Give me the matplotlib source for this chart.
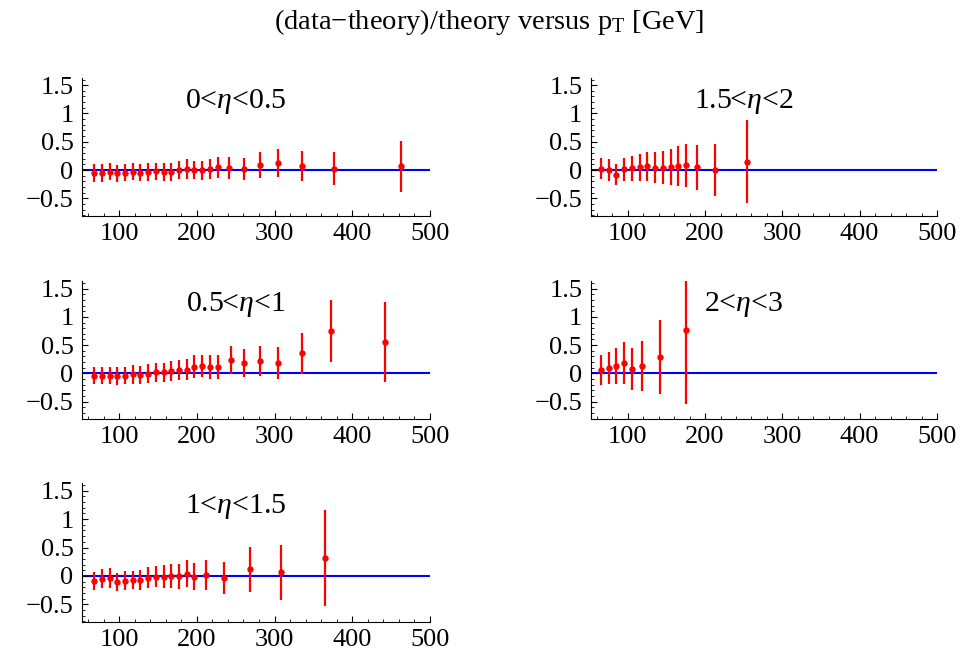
import matplotlib.pyplot as plt
from matplotlib.ticker import MultipleLocator

plt.rcParams['font.family'] = ['Liberation Serif', 'DejaVu Serif']
plt.rcParams['mathtext.fontset'] = 'custom'
plt.rcParams['mathtext.rm'] = 'Liberation Serif'
plt.rcParams['mathtext.it'] = 'Liberation Serif:italic'

# (data-theory)/theory, with error bars, per eta bin
pt_a = [67.4, 77.7, 88, 97.9, 107.8, 117.6, 127.5, 137.4, 147.7, 157.5, 167.4, 177.3,
        187.1, 197, 207.3, 217.2, 227, 241.2, 260.9, 281.1, 304.7, 335.1, 376.3, 462.1]
val_a = [-0.047, -0.047, -0.030, -0.059, -0.047, -0.030, -0.047, -0.036, -0.024, -0.036,
         -0.030, 0.0, 0.018, 0.0, -0.006, 0.018, 0.047, 0.036, 0.012, 0.089, 0.118, 0.071,
         0.024, 0.065]
err_a = [0.157, 0.157, 0.154, 0.148, 0.154, 0.148, 0.154, 0.154, 0.154, 0.154, 0.160,
         0.160, 0.172, 0.166, 0.172, 0.183, 0.183, 0.195, 0.195, 0.225, 0.249, 0.266,
         0.296, 0.456]

pt_b = [65.4, 75.3, 85.3, 95.7, 105.2, 115.2, 125.5, 135.1, 145.5, 155.4, 165.4, 175.3,
        189.6, 213.4, 254.5]
val_b = [0.024, 0.006, -0.083, 0.012, 0.030, 0.047, 0.065, 0.041, 0.041, 0.053, 0.071,
         0.083, 0.047, 0.0, 0.148]
err_b = [0.189, 0.195, 0.189, 0.204, 0.225, 0.243, 0.260, 0.278, 0.290, 0.320, 0.349,
         0.385, 0.402, 0.455, 0.731]

pt_c = [67.4, 77.7, 88, 97.9, 107.8, 117.6, 127.5, 137.4, 147.7, 157.5, 167.4, 177.3,
        187.1, 197, 207.3, 217.2, 227, 244.2, 260.9, 280.7, 304.7, 335.1, 372, 441.5]
val_c = [-0.041, -0.041, -0.041, -0.053, -0.041, -0.018, -0.030, -0.006, 0.018, 0.018,
         0.041, 0.053, 0.065, 0.118, 0.130, 0.107, 0.118, 0.237, 0.183, 0.213, 0.183,
         0.355, 0.757, 0.556]
err_c = [0.154, 0.154, 0.154, 0.160, 0.154, 0.166, 0.160, 0.166, 0.166, 0.172, 0.178,
         0.178, 0.189, 0.201, 0.201, 0.213, 0.213, 0.243, 0.249, 0.266, 0.284, 0.367,
         0.547, 0.710]

pt_d = [65.4, 75.3, 85.3, 95.7, 105.2, 119.0, 142.0, 175.8]
val_d = [0.059, 0.095, 0.130, 0.183, 0.077, 0.136, 0.290, 0.763]
err_d = [0.272, 0.290, 0.325, 0.364, 0.367, 0.444, 0.651, 1.30]

pt_e = [67.4, 77.7, 88, 97.9, 107.8, 117.6, 127.5, 137.4, 147.7, 157.5, 167.4, 177.3,
        187.1, 197, 211.2, 234.7, 268.2, 308.1, 364.3]
val_e = [-0.089, -0.047, -0.041, -0.112, -0.083, -0.071, -0.065, -0.030, -0.012, -0.012,
         0.0, -0.006, 0.036, -0.018, 0.012, -0.036, 0.118, 0.065, 0.314]
err_e = [0.160, 0.166, 0.172, 0.160, 0.166, 0.166, 0.178, 0.189, 0.189, 0.201, 0.213,
         0.219, 0.237, 0.237, 0.260, 0.278, 0.396, 0.485, 0.843]

labels = [r'0<$\eta$<0.5', r'1.5<$\eta$<2', r'0.5<$\eta$<1', r'2<$\eta$<3', r'1<$\eta$<1.5']
panels = [(pt_a, val_a, err_a), (pt_b, val_b, err_b), (pt_c, val_c, err_c),
          (pt_d, val_d, err_d), (pt_e, val_e, err_e)]

# axes rectangles in figure fractions
rects = [[0.085, 0.670, 0.362, 0.211], [0.614, 0.670, 0.360, 0.211],
         [0.085, 0.359, 0.362, 0.211], [0.614, 0.359, 0.360, 0.211],
         [0.085, 0.049, 0.362, 0.212]]

fig = plt.figure(figsize=(9.62, 6.54), dpi=100)
fig.text(0.508, 0.966, r'(data$-$theory)/theory versus p$_\mathrm{T}$ [GeV]',
         ha='center', va='center', fontsize=20.5)

for rect, (x, y, e), lab in zip(rects, panels, labels):
    ax = fig.add_axes(rect)
    ax.axhline(0, color='#0000ff', lw=1.5, zorder=1)
    ax.errorbar(x, y, yerr=e, fmt='o', color='#ff0000', ms=3.6, elinewidth=1.6,
                capsize=0, zorder=2)
    ax.set_xlim(52, 500)
    ax.set_ylim(-0.81, 1.63)
    ax.spines['top'].set_visible(False)
    ax.spines['right'].set_visible(False)
    ax.spines['left'].set_linewidth(0.8)
    ax.spines['bottom'].set_linewidth(0.8)
    ax.xaxis.set_minor_locator(MultipleLocator(20))
    ax.yaxis.set_minor_locator(MultipleLocator(0.1))
    ax.set_yticks([-0.5, 0, 0.5, 1, 1.5])
    ax.set_yticklabels(['\u22120.5', '0', '0.5', '1', '1.5'])
    ax.set_xticks([100, 200, 300, 400, 500])
    ax.tick_params(direction='in', which='major', length=4, width=0.8, labelsize=19)
    ax.tick_params(axis='y', which='major', pad=6)
    ax.tick_params(axis='x', which='major', pad=5)
    ax.tick_params(direction='in', which='minor', length=2, width=0.6)
    ax.text(250, 1.22, lab, ha='center', va='center', fontsize=21.5)

plt.savefig('out.png', dpi=100)
